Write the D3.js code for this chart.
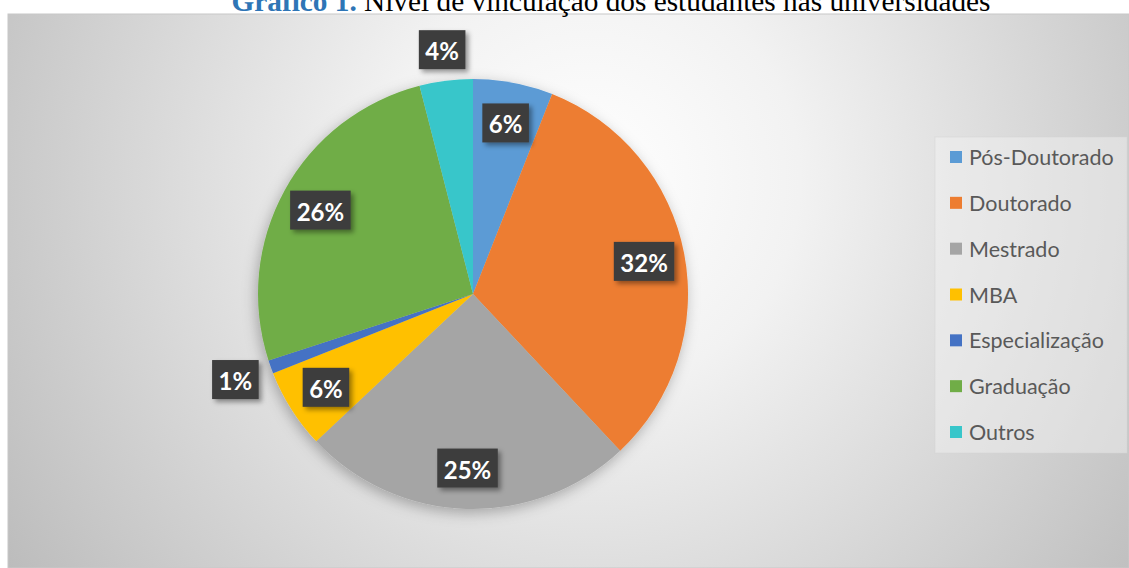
<!DOCTYPE html>
<html>
<head>
<meta charset="utf-8">
<script src="https://cdn.jsdelivr.net/npm/d3@7"></script>
<style>
  body { margin: 0; background: #fff; }
  svg { display: block; }
</style>
</head>
<body>
<div id="chart"></div>
<script>
// Nível de vinculação dos estudantes (pie)
const categories = ["Pós-Doutorado", "Doutorado", "Mestrado", "MBA", "Especialização", "Graduação", "Outros"];
const values = [6, 32, 25, 6, 1, 26, 4];
const colors = ["#5B9BD5", "#ED7D31", "#A5A5A5", "#FFC000", "#4472C4", "#70AD47", "#38C6CA"];

const W = 1129, H = 568;
const cx = 473, cy = 294, R = 215;

const svg = d3.select("#chart").append("svg")
    .attr("width", W)
    .attr("height", H);

const defs = svg.append("defs");

// background gradient of the chart area
const grad = defs.append("radialGradient")
    .attr("id", "bg")
    .attr("gradientUnits", "userSpaceOnUse")
    .attr("cx", 590).attr("cy", 180).attr("r", 700);
grad.append("stop").attr("offset", "0%").attr("stop-color", "#ffffff");
grad.append("stop").attr("offset", "30%").attr("stop-color", "#f2f2f2");
grad.append("stop").attr("offset", "100%").attr("stop-color", "#bcbcbc");

const shadow = defs.append("filter").attr("id", "pieShadow")
    .attr("x", "-20%").attr("y", "-20%").attr("width", "140%").attr("height", "140%");
shadow.append("feDropShadow")
    .attr("dx", -2).attr("dy", 4).attr("stdDeviation", 7)
    .attr("flood-color", "#000").attr("flood-opacity", 0.28);

const boxShadow = defs.append("filter").attr("id", "boxShadow")
    .attr("x", "-30%").attr("y", "-30%").attr("width", "160%").attr("height", "160%");
boxShadow.append("feDropShadow")
    .attr("dx", 3).attr("dy", 3).attr("stdDeviation", 2.5)
    .attr("flood-color", "#000").attr("flood-opacity", 0.4);

// chart area
svg.append("rect")
    .attr("x", 8).attr("y", 14)
    .attr("width", W - 8).attr("height", H - 14)
    .attr("fill", "url(#bg)")
    .attr("stroke", "#c8c8c8")
    .attr("stroke-width", 1);

// title (top is clipped in the original)
const title = svg.append("text")
    .attr("x", 611)
    .attr("y", 11)
    .attr("text-anchor", "middle")
    .attr("font-family", "'Liberation Serif', 'Times New Roman', serif")
    .attr("font-size", 29.3);
title.append("tspan")
    .attr("font-weight", "bold")
    .attr("fill", "#2E75B6")
    .text("Gráfico 1.");
title.append("tspan")
    .attr("fill", "#000")
    .text(" Nível de vinculação dos estudantes nas universidades");

// pie
const pie = d3.pie().sort(null).value(d => d);
const arcs = pie(values);
const arc = d3.arc().innerRadius(0).outerRadius(R);

const g = svg.append("g").attr("transform", `translate(${cx},${cy})`);

g.append("g")
    .attr("filter", "url(#pieShadow)")
    .selectAll("path")
    .data(arcs)
    .enter()
    .append("path")
    .attr("d", arc)
    .attr("fill", (d, i) => colors[i]);

// data labels
const labelFont = "Lato, 'Open Sans', sans-serif";
arcs.forEach((d, i) => {
    const a = (d.startAngle + d.endAngle) / 2;
    const lg = g.append("g");
    const t = lg.append("text")
        .attr("text-anchor", "middle")
        .attr("dominant-baseline", "central")
        .attr("font-family", labelFont)
        .attr("font-weight", "bold")
        .attr("font-size", 24)
        .attr("fill", "#fff")
        .text(values[i] + "%");
    const tw = t.node().getComputedTextLength();
    const bw = tw + 13, bh = 39;
    let dist;
    if (values[i] < 5) {
        // small slices: put the box just outside the edge
        dist = R + (bw / 2) * Math.abs(Math.sin(a)) + (bh / 2) * Math.abs(Math.cos(a)) + 9;
    } else {
        dist = R * 0.81;
    }
    const x = Math.sin(a) * dist, y = -Math.cos(a) * dist;
    lg.attr("transform", `translate(${x},${y})`);
    lg.insert("rect", "text")
        .attr("x", -bw / 2).attr("y", -bh / 2)
        .attr("width", bw).attr("height", bh)
        .attr("fill", "#3d3d3d")
        .attr("filter", "url(#boxShadow)");
    t.attr("y", 1);
});

// legend
const legend = svg.append("g");
legend.append("rect")
    .attr("x", 935).attr("y", 137)
    .attr("width", 192).attr("height", 316)
    .attr("fill", "#f4f4f4")
    .attr("fill-opacity", 0.45)
    .attr("stroke", "#d4d4d4")
    .attr("stroke-opacity", 0.5);

const rowY = d3.scalePoint().domain(categories).range([157, 432]);

const items = legend.selectAll(".item")
    .data(categories)
    .enter()
    .append("g")
    .attr("class", "item")
    .attr("transform", d => `translate(950,${rowY(d)})`);

items.append("rect")
    .attr("x", 0).attr("y", -6)
    .attr("width", 12).attr("height", 12)
    .attr("fill", (d, i) => colors[i]);

items.append("text")
    .attr("x", 19)
    .attr("y", 0)
    .attr("dominant-baseline", "central")
    .attr("font-family", labelFont)
    .attr("font-size", 21.5)
    .attr("fill", "#595959")
    .text(d => d);
</script>
</body>
</html>
